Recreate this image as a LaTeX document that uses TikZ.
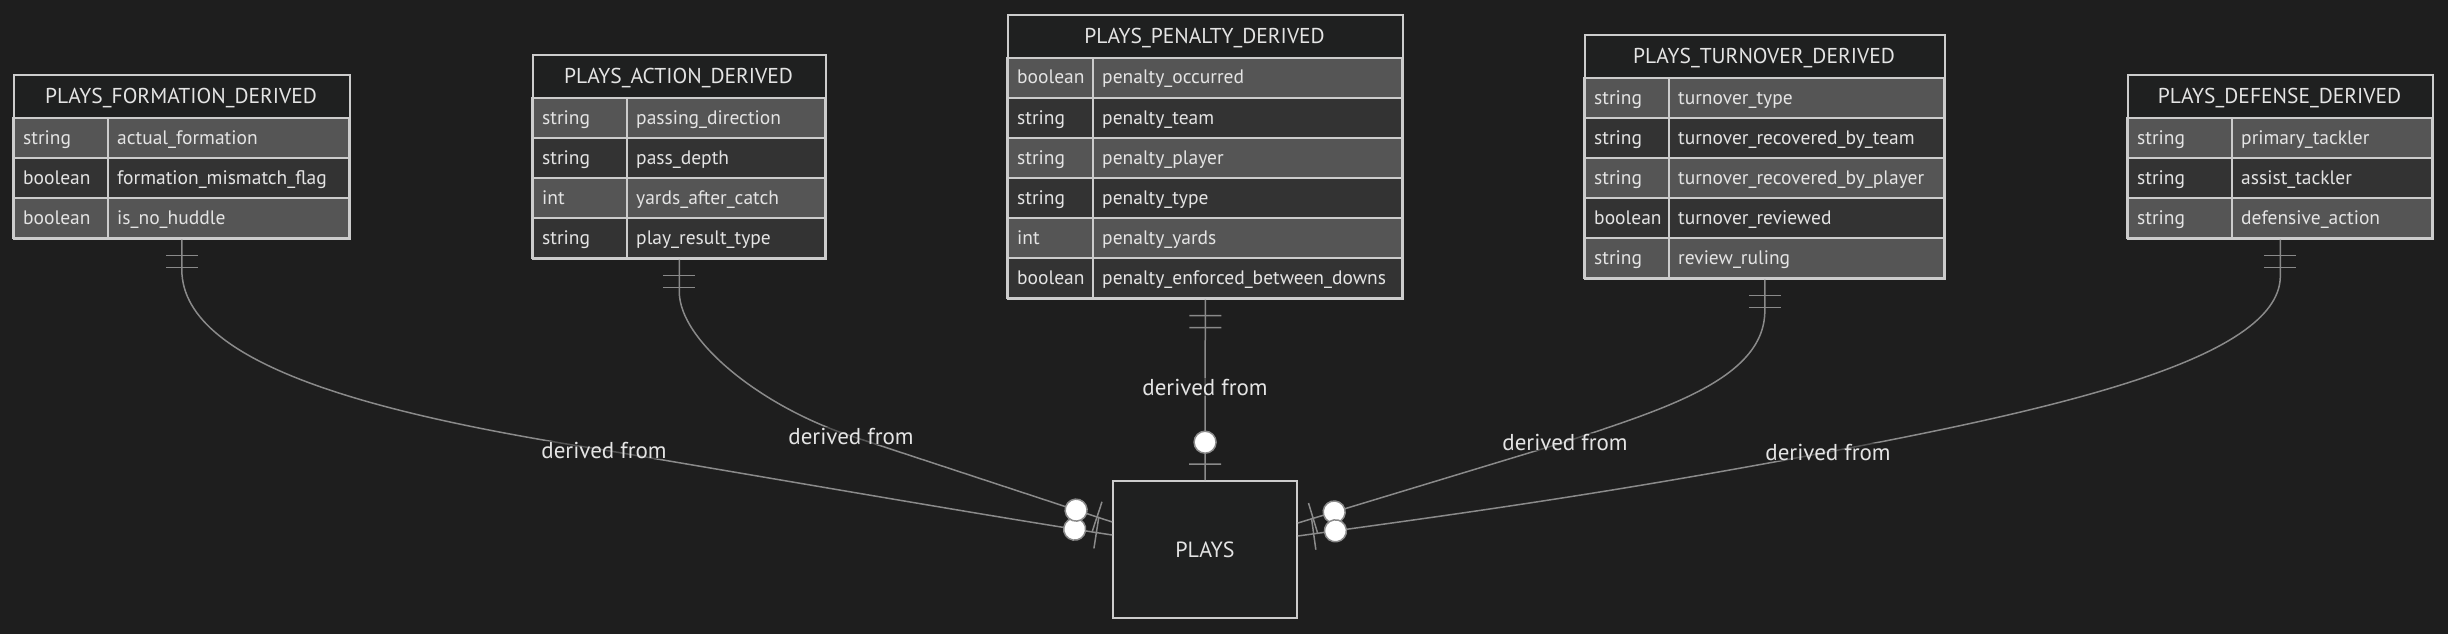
\documentclass[tikz,border=0pt]{standalone}
\usepackage{fontspec}
\setmainfont{PT Sans}
\usetikzlibrary{decorations.markings}
\definecolor{bgC}{HTML}{1E1E1E}
\definecolor{hdrC}{HTML}{1F2020}
\definecolor{rowA}{HTML}{555555}
\definecolor{rowB}{HTML}{333333}
\definecolor{borderC}{HTML}{CCCCCC}
\definecolor{textC}{HTML}{E4E4E4}
\definecolor{lineC}{HTML}{8A8A8A}
\tikzset{
  cell/.style={anchor=base west, inner sep=0pt, text=textC, font=\fontsize{19.5}{22}\selectfont},
  ttl/.style={anchor=base, inner sep=0pt, text=textC, font=\fontsize{21.5}{24}\selectfont},
  tbox/.style={draw=borderC, line width=1.6pt, inner sep=0pt},
  entity/.style={draw=borderC, fill=hdrC, line width=1.6pt, inner sep=0pt, text=textC, font=\fontsize{22}{24}\selectfont},
  lbl/.style={fill=bgC, fill opacity=0.5, text opacity=1, inner sep=1pt, text=textC, font=\fontsize{23}{26}\selectfont},
  conn/.style={draw=lineC, line width=1.5pt, postaction={decorate}, decoration={markings,
    mark=at position 16pt with {\draw[lineC, line width=1.5pt] (0pt,-16pt)--(0pt,16pt);},
    mark=at position 28pt with {\draw[lineC, line width=1.5pt] (0pt,-16pt)--(0pt,16pt);},
    mark=at position -16pt with {\draw[lineC, line width=1.5pt] (0pt,-16pt)--(0pt,16pt);},
    mark=at position -38pt with {\draw[draw=lineC, fill=white, line width=1.5pt] (0pt,0pt) circle (11pt);}}}
}
% name, x, y, width, type-col width, title, rows count, rows
\newcommand{\ertable}[8]{%
  \fill[hdrC] (#2,#3) rectangle ++(#4,44);
  \node[ttl] (#1-title) at (#2+#4/2,#3+29.5) {#6};
  \foreach \ty/\nm [count=\i] in {#8} {
    \pgfmathsetmacro{\yy}{#3+4+40*\i}
    \pgfmathtruncatemacro{\odd}{mod(\i,2)}
    \ifnum\odd=1 \def\rc{rowA}\else\def\rc{rowB}\fi
    \filldraw[fill=\rc, draw=borderC, line width=1.6pt] (#2,\yy) rectangle (#2+#5,\yy+40);
    \filldraw[fill=\rc, draw=borderC, line width=1.6pt] (#2+#5,\yy) rectangle (#2+#4,\yy+40);
    \node[cell] (#1-t\i) at (#2+10,\yy+26) {\ty};
    \node[cell] (#1-n\i) at (#2+#5+9,\yy+26) {\nm};
  }
  \node[tbox, minimum width=#4pt, minimum height=44pt+40pt*#7, anchor=north west] (#1) at (#2,#3) {};
}
\begin{document}
\begin{tikzpicture}[x=1pt,y=-1pt]
\fill[bgC] (0,0) rectangle (2448,634);
\useasboundingbox (0,0) rectangle (2448,634);

\ertable{formation}{13}{74}{336}{95}{PLAYS\_FORMATION\_DERIVED}{3}{string/actual\_formation, boolean/formation\_mismatch\_flag, boolean/is\_no\_huddle}
\ertable{action}{532}{54}{293}{95}{PLAYS\_ACTION\_DERIVED}{4}{string/passing\_direction, string/pass\_depth, int/yards\_after\_catch, string/play\_result\_type}
\ertable{penalty}{1007}{14}{395}{86}{PLAYS\_PENALTY\_DERIVED}{6}{boolean/penalty\_occurred, string/penalty\_team, string/penalty\_player, string/penalty\_type, int/penalty\_yards, boolean/penalty\_enforced\_between\_downs}
\ertable{turnover}{1584}{34}{360}{85}{PLAYS\_TURNOVER\_DERIVED}{5}{string/turnover\_type, string/turnover\_recovered\_by\_team, string/turnover\_recovered\_by\_player, boolean/turnover\_reviewed, string/review\_ruling}
\ertable{defense}{2127}{74}{305}{105}{PLAYS\_DEFENSE\_DERIVED}{3}{string/primary\_tackler, string/assist\_tackler, string/defensive\_action}

\node[entity, minimum width=184pt, minimum height=137pt] (plays) at (1205,549.5) {PLAYS};

\coordinate (fm) at (604,450);
\coordinate (am) at (851,436);
\coordinate (pm) at (1205,387);
\coordinate (tm) at (1565,442);
\coordinate (dm) at (1828,452);

\path[conn] (formation.south) -- ++(0,30) .. controls (182,370) and (400,418) .. (fm) .. controls (800,483) and (1000,518) .. ([yshift=14.5pt]plays.west);
\path[conn] (action.south) -- ++(0,32) .. controls (679,340) and (760,406) .. (am) -- ([yshift=27.5pt]plays.west);
\path[conn] (penalty.south) -- (plays.north);
\path[conn] (turnover.south) -- ++(0,32) .. controls (1764,380) and (1660,410) .. (tm) -- ([yshift=26.5pt]plays.east);
\path[conn] (defense.south) -- ++(0,37) .. controls (2279,360) and (2050,410) .. (dm) .. controls (1600,495) and (1450,515) .. ([yshift=13.5pt]plays.east);

\node[lbl] (lf) at (fm) {derived from};
\node[lbl] (la) at (am) {derived from};
\node[lbl] (lp) at (pm) {derived from};
\node[lbl] (lt) at (tm) {derived from};
\node[lbl] (ld) at (dm) {derived from};
\end{tikzpicture}
\end{document}
